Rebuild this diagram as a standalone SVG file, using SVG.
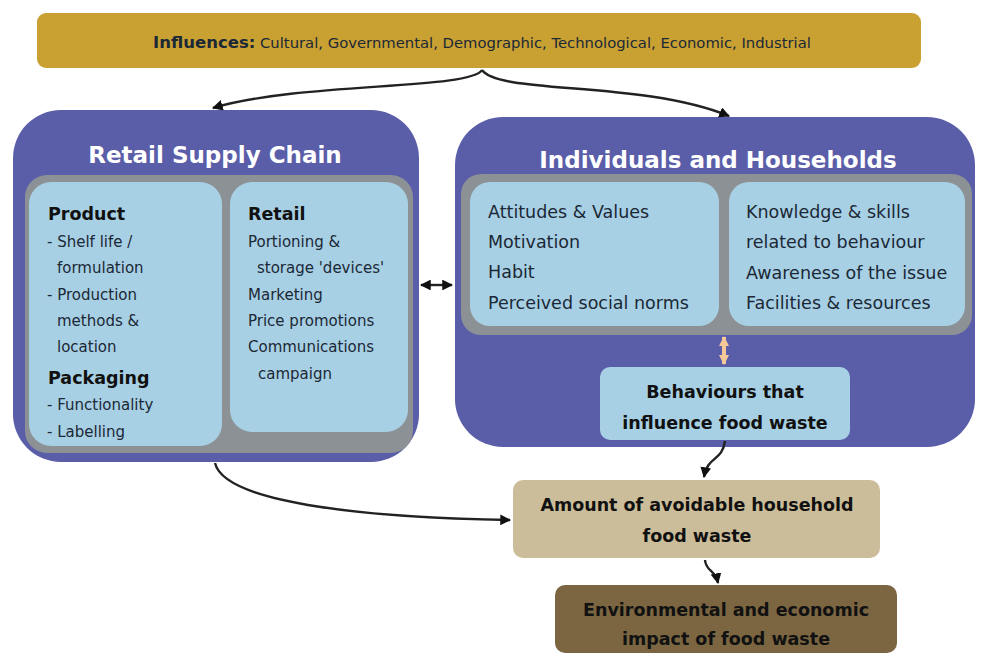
<svg xmlns="http://www.w3.org/2000/svg" width="988" height="659" viewBox="0 0 988 659">
<defs>
<marker id="ah" viewBox="0 0 10 10" refX="9" refY="5" markerWidth="4.5" markerHeight="4.5" orient="auto-start-reverse" markerUnits="strokeWidth">
<path d="M0,0 L10,5 L0,10 z" fill="#111"/>
</marker>
<marker id="ahO" viewBox="0 0 10 10" refX="9" refY="5" markerWidth="2.6" markerHeight="2.6" orient="auto-start-reverse" markerUnits="strokeWidth">
<path d="M0,0 L10,5 L0,10 z" fill="#F5C89A"/>
</marker>
</defs>
<style>
text{font-family:"DejaVu Sans","Liberation Sans",sans-serif;fill:#1B2836;}
.b{font-weight:bold;}
.t{font-size:15px;}
.r{font-size:17.5px;}
.h{font-size:17.5px;font-weight:bold;fill:#111;}
.title{font-size:23px;font-weight:bold;fill:#fff;}
.big{fill:#5A5DA8;}
.gray{fill:#8C9196;}
.panel{fill:#A8D0E4;}
.conn{fill:none;stroke:#222;stroke-width:2.4;}
.bt{font-size:17.5px;font-weight:bold;fill:#111;text-anchor:middle;}
</style>
<rect width="988" height="659" fill="#fff"/>

<g id="influences">
<rect x="37" y="13" width="884" height="55" rx="9" fill="#C9A133"/>
<text x="482" y="48" text-anchor="middle" style="font-size:14.8px" fill="#222"><tspan class="b" style="font-size:16.5px">Influences:</tspan> Cultural, Governmental, Demographic, Technological, Economic, Industrial</text>
</g>

<g id="retail-supply-chain">
<rect x="13" y="110" width="406" height="352" rx="48" class="big"/>
<text x="215" y="163" text-anchor="middle" class="title">Retail Supply Chain</text>
<rect x="25" y="175" width="388" height="278" rx="22" class="gray"/>
<g id="product">
<rect x="29" y="182" width="193" height="264" rx="22" class="panel"/>
<text x="48" y="220" class="h">Product</text>
<text x="47" y="247" class="t">- Shelf life /</text>
<text x="57" y="273" class="t">formulation</text>
<text x="47" y="300" class="t">- Production</text>
<text x="57" y="326" class="t">methods &amp;</text>
<text x="57" y="352" class="t">location</text>
<text x="48" y="384" class="h">Packaging</text>
<text x="47" y="410" class="t">- Functionality</text>
<text x="47" y="437" class="t">- Labelling</text>
</g>
<g id="retail">
<rect x="230" y="182" width="178" height="250" rx="22" class="panel"/>
<text x="248" y="220" class="h">Retail</text>
<text x="248" y="247" class="t">Portioning &amp;</text>
<text x="257" y="273" class="t">storage 'devices'</text>
<text x="248" y="300" class="t">Marketing</text>
<text x="248" y="326" class="t">Price promotions</text>
<text x="248" y="352" class="t">Communications</text>
<text x="258" y="379" class="t">campaign</text>
</g>
</g>

<g id="individuals-households">
<rect x="455" y="117" width="520" height="330" rx="48" class="big"/>
<text x="718" y="168" text-anchor="middle" class="title">Individuals and Households</text>
<rect x="461" y="174" width="511" height="161" rx="20" class="gray"/>
<g id="attitudes">
<rect x="470" y="182" width="249" height="144" rx="20" class="panel"/>
<text x="488" y="218" class="r">Attitudes &amp; Values</text>
<text x="488" y="248" class="r">Motivation</text>
<text x="488" y="278" class="r">Habit</text>
<text x="488" y="309" class="r">Perceived social norms</text>
</g>
<g id="knowledge">
<rect x="729" y="182" width="236" height="144" rx="20" class="panel"/>
<text x="746" y="218" class="r">Knowledge &amp; skills</text>
<text x="746" y="248" class="r">related to behaviour</text>
<text x="746" y="279" class="r">Awareness of the issue</text>
<text x="746" y="309" class="r">Facilities &amp; resources</text>
</g>
<g id="behaviours">
<rect x="600" y="367" width="250" height="73" rx="10" class="panel"/>
<text x="725" y="398" class="bt">Behaviours that</text>
<text x="725" y="429" class="bt">influence food waste</text>
</g>
</g>

<g id="amount">
<rect x="513" y="480" width="367" height="78" rx="10" fill="#CCBD9A"/>
<text x="697" y="511" class="bt">Amount of avoidable household</text>
<text x="697" y="542" class="bt">food waste</text>
</g>

<g id="impact">
<rect x="555" y="585" width="342" height="68" rx="10" fill="#7B6641"/>
<text x="726" y="616" class="bt">Environmental and economic</text>
<text x="726" y="645" class="bt">impact of food waste</text>
</g>

<g id="connectors">
<path class="conn" d="M482,70 C470,90 300,82 213,108" marker-end="url(#ah)"/>
<path class="conn" d="M482,70 C500,95 640,80 729,116" marker-end="url(#ah)"/>
<path class="conn" d="M421,285 L452,285" marker-start="url(#ah)" marker-end="url(#ah)"/>
<path d="M724,337 L724,364" fill="none" stroke="#F5C89A" stroke-width="4" marker-start="url(#ahO)" marker-end="url(#ahO)"/>
<path class="conn" d="M725,441 C722,462 708,455 704,477" marker-end="url(#ah)"/>
<path class="conn" d="M215,463 C225,505 380,518 510,520" marker-end="url(#ah)"/>
<path class="conn" d="M705,560 C706,572 715,569 718,583" marker-end="url(#ah)"/>
</g>
</svg>
